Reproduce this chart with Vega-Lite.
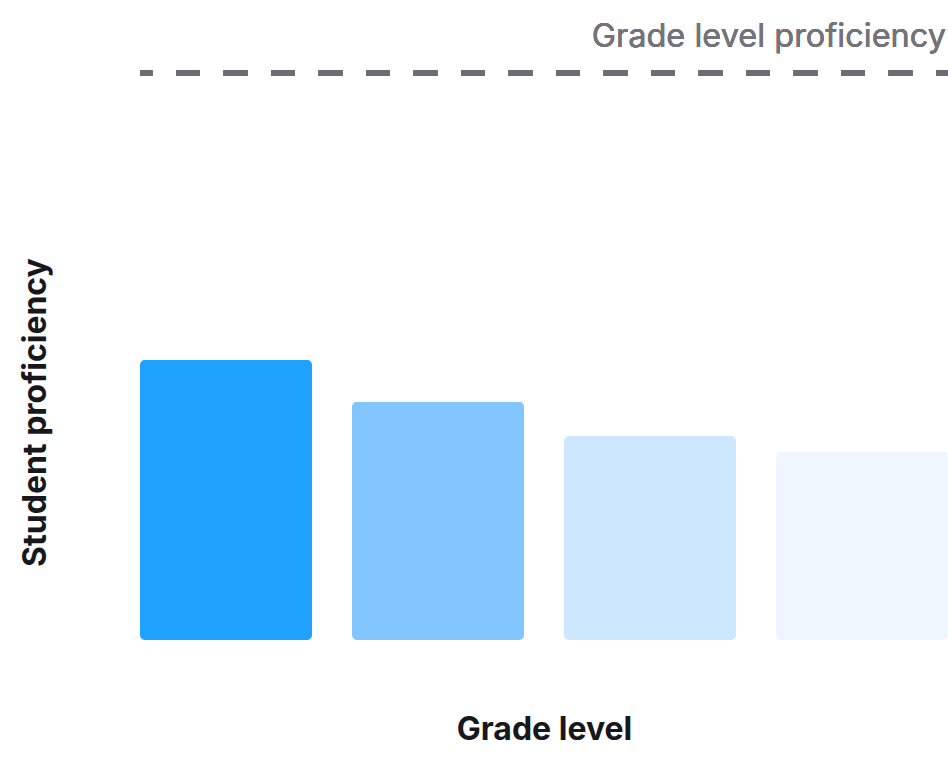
{
  "$schema": "https://vega.github.io/schema/vega-lite/v6.json",
  "width": 808,
  "height": 567,
  "autosize": {"type": "none"},
  "padding": {"left": 140, "top": 73, "right": 0, "bottom": 118},
  "background": "white",
  "config": {
    "view": {"stroke": null},
    "font": "Inter"
  },
  "data": {
    "values": [
      {"grade": "1", "proficiency": 49.4},
      {"grade": "2", "proficiency": 42.0},
      {"grade": "3", "proficiency": 36.0},
      {"grade": "4", "proficiency": 33.2}
    ]
  },
  "layer": [
    {
      "mark": {"type": "bar", "cornerRadius": 5},
      "encoding": {
        "x": {
          "field": "grade",
          "type": "nominal",
          "scale": {"paddingInner": 0.1887, "paddingOuter": 0},
          "axis": {
            "labels": false,
            "ticks": false,
            "domain": false,
            "title": "Grade level",
            "titleFont": "Inter",
            "titleFontSize": 32,
            "titleFontWeight": "bold",
            "titleColor": "#17171c",
            "titlePadding": 74
          }
        },
        "y": {
          "field": "proficiency",
          "type": "quantitative",
          "scale": {"domain": [0, 100], "nice": false},
          "axis": {
            "labels": false,
            "ticks": false,
            "domain": false,
            "grid": false,
            "title": "Student proficiency",
            "titleFont": "Inter",
            "titleFontSize": 32,
            "titleFontWeight": "bold",
            "titleColor": "#17171c",
            "titlePadding": 88,
            "titleY": 339
          }
        },
        "color": {
          "field": "grade",
          "type": "nominal",
          "scale": {"range": ["#1FA1FF", "#83C6FF", "#CDE7FF", "#EFF6FF"]},
          "legend": null
        }
      }
    },
    {
      "mark": {
        "type": "rule",
        "color": "#6E6B73",
        "strokeWidth": 6,
        "strokeDash": [24, 23.5],
        "strokeDashOffset": 12
      },
      "encoding": {
        "y": {"datum": 100}
      }
    },
    {
      "mark": {
        "type": "text",
        "text": "Grade level proficiency",
        "align": "right",
        "baseline": "alphabetic",
        "dy": -26,
        "dx": -2,
        "font": "Inter",
        "fontSize": 32.5,
        "color": "#75737A"
      },
      "encoding": {
        "x": {"datum": "4", "type": "nominal", "bandPosition": 1},
        "y": {"datum": 100}
      }
    }
  ]
}
